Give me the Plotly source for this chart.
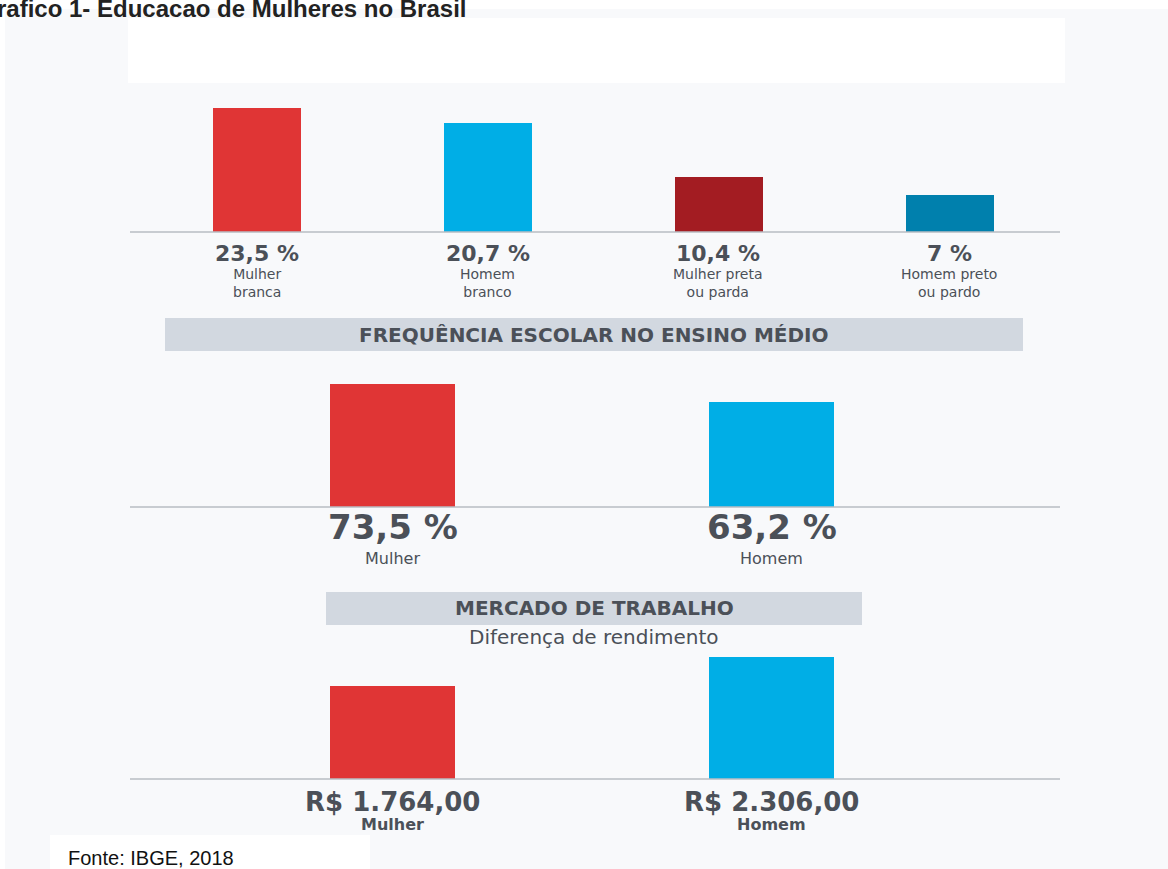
import plotly.graph_objects as go

W, H = 1168, 869

# ---- data ----
top_categories = ["Mulher<br>branca", "Homem<br>branco", "Mulher preta<br>ou parda", "Homem preto<br>ou pardo"]
top_values = [23.5, 20.7, 10.4, 7.0]
top_labels = ["23,5 %", "20,7 %", "10,4 %", "7 %"]
top_colors = ["#e03535", "#00aee6", "#a31c22", "#0080ad"]

mid_categories = ["Mulher", "Homem"]
mid_values = [73.5, 63.2]
mid_labels = ["73,5 %", "63,2 %"]

bot_categories = ["Mulher", "Homem"]
bot_values = [1764.00, 2306.00]
bot_labels = ["R$ 1.764,00", "R$ 2.306,00"]

pair_colors = ["#e03535", "#00aee6"]

title_text = "rafico 1- Educacao de Mulheres no Brasil"
header1 = "FREQUÊNCIA ESCOLAR NO ENSINO MÉDIO"
header2 = "MERCADO DE TRABALHO"
subheader2 = "Diferença de rendimento"
source_text = "Fonte: IBGE, 2018"

TXT = "#4b5058"
FONT = "DejaVu Sans"


def px(x):
    return x / W


def py(y):
    return 1 - y / H


fig = go.Figure()

fig.add_trace(go.Bar(x=list(range(4)), y=top_values, marker=dict(color=top_colors, line=dict(width=0)),
                     width=88 / 231, xaxis="x", yaxis="y", hoverinfo="skip"))
fig.add_trace(go.Bar(x=list(range(2)), y=mid_values, marker=dict(color=pair_colors, line=dict(width=0)),
                     width=125 / 379, xaxis="x2", yaxis="y2", hoverinfo="skip"))
fig.add_trace(go.Bar(x=list(range(2)), y=bot_values, marker=dict(color=pair_colors, line=dict(width=0)),
                     width=125 / 379, xaxis="x3", yaxis="y3", hoverinfo="skip"))

ax = dict(showgrid=False, zeroline=False, showticklabels=False, showline=False, fixedrange=True)

layout = dict(
    width=W, height=H, margin=dict(l=0, r=0, t=0, b=0),
    paper_bgcolor="white", plot_bgcolor="rgba(0,0,0,0)", showlegend=False, bargap=0,
    xaxis=dict(ax, domain=[px(141.5), px(1064.5)], range=[-0.5, 3.5]),
    yaxis=dict(ax, domain=[py(232), py(100)], range=[0, 132 / 5.27]),
    xaxis2=dict(ax, domain=[px(203), px(961)], range=[-0.5, 1.5]),
    yaxis2=dict(ax, domain=[py(507), py(380)], range=[0, 127 / 1.668]),
    xaxis3=dict(ax, domain=[px(203), px(961)], range=[-0.5, 1.5]),
    yaxis3=dict(ax, domain=[py(779), py(650)], range=[0, 129 / 0.0528]),
)

shapes = [
    # light page background
    dict(type="rect", xref="paper", yref="paper", x0=px(5), x1=1, y0=0, y1=py(9),
         fillcolor="#f8f9fb", line=dict(width=0), layer="below"),
    # white blank box at top
    dict(type="rect", xref="paper", yref="paper", x0=px(128), x1=px(1065), y0=py(83), y1=py(18),
         fillcolor="white", line=dict(width=0), layer="below"),
    # header boxes
    dict(type="rect", xref="paper", yref="paper", x0=px(165), x1=px(1023), y0=py(351), y1=py(318),
         fillcolor="#d2d8e0", line=dict(width=0), layer="below"),
    dict(type="rect", xref="paper", yref="paper", x0=px(326), x1=px(862), y0=py(625), y1=py(592),
         fillcolor="#d2d8e0", line=dict(width=0), layer="below"),
    # source box
    dict(type="rect", xref="paper", yref="paper", x0=px(50), x1=px(370), y0=0, y1=py(835),
         fillcolor="white", line=dict(width=0), layer="above"),
]
for yb in (232, 507, 779):
    shapes.append(dict(type="line", xref="paper", yref="paper", x0=px(130), x1=px(1060),
                       y0=py(yb), y1=py(yb), line=dict(color="#b9bdc3", width=1.5), layer="above"))

ann = []
# top section labels
for i, (lab, cat) in enumerate(zip(top_labels, top_categories)):
    ann.append(dict(x=i, xref="x", y=py(253), yref="paper", text=lab, showarrow=False,
                    font=dict(family=FONT, size=22, color=TXT, weight="bold"), xanchor="center", yanchor="middle"))
    ann.append(dict(x=i, xref="x", y=py(283), yref="paper", text=cat, showarrow=False,
                    font=dict(family=FONT, size=14, color=TXT), xanchor="center", yanchor="middle"))
# middle section labels
for i, (lab, cat) in enumerate(zip(mid_labels, mid_categories)):
    ann.append(dict(x=i, xref="x2", y=py(527), yref="paper", text=lab, showarrow=False,
                    font=dict(family=FONT, size=34, color=TXT, weight="bold"), xanchor="center", yanchor="middle"))
    ann.append(dict(x=i, xref="x2", y=py(558), yref="paper", text=cat, showarrow=False,
                    font=dict(family=FONT, size=16, color=TXT), xanchor="center", yanchor="middle"))
# bottom section labels
for i, (lab, cat) in enumerate(zip(bot_labels, bot_categories)):
    ann.append(dict(x=i, xref="x3", y=py(802), yref="paper", text=lab, showarrow=False,
                    font=dict(family=FONT, size=26, color=TXT, weight="bold"), xanchor="center", yanchor="middle"))
    ann.append(dict(x=i, xref="x3", y=py(824), yref="paper", text=cat, showarrow=False,
                    font=dict(family=FONT, size=16, color=TXT, weight="bold"), xanchor="center", yanchor="middle"))

# headers
ann.append(dict(x=px(594), y=py(335), xref="paper", yref="paper", text=header1, showarrow=False,
                font=dict(family=FONT, size=20, color=TXT, weight="bold"), xanchor="center", yanchor="middle"))
ann.append(dict(x=px(594), y=py(608), xref="paper", yref="paper", text=header2, showarrow=False,
                font=dict(family=FONT, size=20, color=TXT, weight="bold"), xanchor="center", yanchor="middle"))
ann.append(dict(x=px(594), y=py(637), xref="paper", yref="paper", text=subheader2, showarrow=False,
                font=dict(family=FONT, size=20, color=TXT), xanchor="center", yanchor="middle"))

# title (clipped at top) and source
ann.append(dict(x=0, y=py(24), xref="paper", yref="paper", text=title_text, showarrow=False,
                font=dict(family="Liberation Sans", size=24, color="#222222", weight="bold"),
                xanchor="left", yanchor="bottom", xshift=-5))
ann.append(dict(x=px(66), y=py(858), xref="paper", yref="paper", text=source_text, showarrow=False,
                font=dict(family="Liberation Sans", size=20, color="#111111"),
                xanchor="left", yanchor="middle"))

layout["shapes"] = shapes
layout["annotations"] = ann
fig.update_layout(**layout)

fig.write_html("out.html", config={"displayModeBar": False},
               post_script="document.body.style.margin='0';document.body.style.overflow='hidden';")
